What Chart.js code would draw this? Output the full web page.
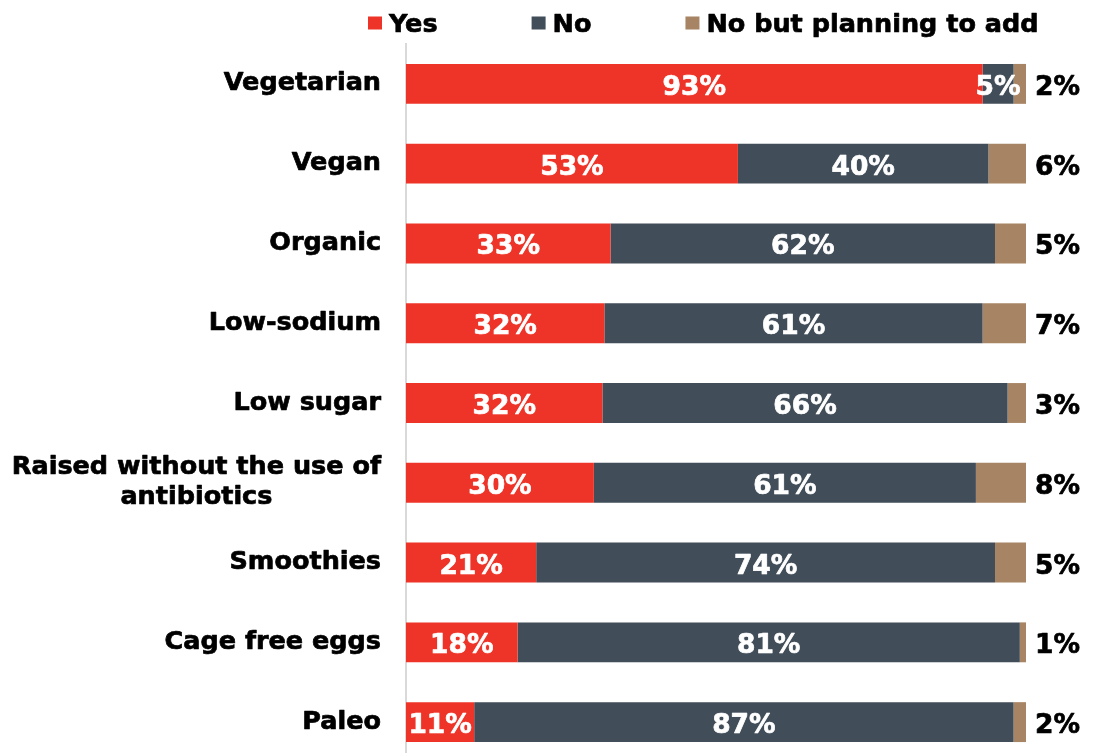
<!DOCTYPE html>
<html>
<head>
<meta charset="utf-8">
<script src="https://cdn.jsdelivr.net/npm/chart.js@4/dist/chart.umd.min.js"></script>
<style>
  html, body { margin: 0; padding: 0; background: #ffffff; overflow: hidden; }
  #wrap { width: 1094px; height: 762px; }
</style>
</head>
<body>
<div id="wrap"><canvas id="chart" width="1094" height="762"></canvas></div>
<script>
// Survey answers per menu attribute (percent of respondents)
const categories = [
  'Vegetarian',
  'Vegan',
  'Organic',
  'Low-sodium',
  'Low sugar',
  ['Raised without the use of', 'antibiotics'],
  'Smoothies',
  'Cage free eggs',
  'Paleo'
];
const seriesNames = ['Yes', 'No', 'No but planning to add'];
const yesValues = [93, 53, 33, 32, 32, 30, 21, 18, 11];
const noValues = [5, 40, 62, 61, 66, 61, 74, 81, 87];
const planningValues = [2, 6, 5, 7, 3, 8, 5, 1, 2];

const seriesColors = ['#ee3428', '#414d59', '#a78463'];
const FONT = '"DejaVu Sans", Verdana, sans-serif';

// Each row is shown as a 100% stacked bar: rounded answers are rescaled by the row total
const rowTotals = categories.map((_, i) => yesValues[i] + noValues[i] + planningValues[i]);
const share = (values) => values.map((v, i) => v / rowTotals[i] * 100);
const rawSeries = [yesValues, noValues, planningValues];

const datasets = rawSeries.map((values, k) => ({
  label: seriesNames[k],
  data: share(values),
  rawValues: values,
  backgroundColor: seriesColors[k],
  borderWidth: 0,
  barPercentage: 0.5,
  categoryPercentage: 1.0
}));

// Heavy text: fill plus a thin outline in the same colour
function heavyText(ctx, text, x, y, color) {
  ctx.fillStyle = color;
  ctx.strokeStyle = color;
  ctx.lineWidth = 0.7;
  ctx.lineJoin = 'round';
  ctx.fillText(text, x, y);
  ctx.strokeText(text, x, y);
}

// Legend row across the top
const legendPlugin = {
  id: 'topLegend',
  afterDraw(chart) {
    const ctx = chart.ctx;
    ctx.save();
    ctx.font = 'bold 25.5px ' + FONT;
    ctx.textAlign = 'left';
    ctx.textBaseline = 'alphabetic';
    let x = 368;
    seriesNames.forEach((name, k) => {
      ctx.fillStyle = seriesColors[k];
      ctx.fillRect(x, 16.5, 14, 13);
      const tx = x + 21;
      heavyText(ctx, name, tx, 32, '#000000');
      x = tx + ctx.measureText(name).width + 94;
    });
    ctx.restore();
  }
};

// Category names, right-aligned beside the axis; wrapped names are centred line by line
const categoryLabelPlugin = {
  id: 'categoryLabels',
  afterDraw(chart) {
    const ctx = chart.ctx;
    const yScale = chart.scales.y;
    const right = 381;
    ctx.save();
    ctx.font = 'bold 25.5px ' + FONT;
    ctx.textBaseline = 'alphabetic';
    categories.forEach((label, i) => {
      const cy = yScale.getPixelForValue(i);
      if (Array.isArray(label)) {
        const widths = label.map(l => ctx.measureText(l).width);
        const cx = right - Math.max(...widths) / 2;
        ctx.textAlign = 'center';
        const lineH = 30;
        const firstBase = cy + 6.5 - lineH * (label.length - 1) / 2;
        label.forEach((l, j) => heavyText(ctx, l, cx, firstBase + j * lineH, '#000000'));
      } else {
        ctx.textAlign = 'right';
        heavyText(ctx, label, right, cy + 6.5, '#000000');
      }
    });
    ctx.restore();
  }
};

// Percent labels: inside the Yes / No segments, outside the bar end for the last series
const valueLabelPlugin = {
  id: 'valueLabels',
  afterDatasetsDraw(chart) {
    const ctx = chart.ctx;
    ctx.save();
    ctx.font = 'bold 26.5px ' + FONT;
    ctx.textBaseline = 'alphabetic';
    chart.data.datasets.forEach((ds, k) => {
      const meta = chart.getDatasetMeta(k);
      meta.data.forEach((bar, i) => {
        const text = ds.rawValues[i] + '%';
        const p = bar.getProps(['x', 'y', 'base'], true);
        if (k < 2) {
          ctx.textAlign = 'center';
          heavyText(ctx, text, (p.x + p.base) / 2, p.y + 11, '#ffffff');
        } else {
          ctx.textAlign = 'left';
          heavyText(ctx, text, p.x + 9, p.y + 11, '#000000');
        }
      });
    });
    ctx.restore();
  }
};

new Chart(document.getElementById('chart'), {
  type: 'bar',
  data: { labels: categories, datasets: datasets },
  options: {
    indexAxis: 'y',
    responsive: false,
    animation: false,
    devicePixelRatio: 1,
    layout: { padding: { top: 44, right: 68, bottom: 0, left: 0 } },
    plugins: {
      legend: { display: false },
      tooltip: { enabled: false },
      title: { display: false }
    },
    scales: {
      x: {
        stacked: true,
        min: 0,
        max: 100,
        display: false
      },
      y: {
        stacked: true,
        grid: { display: false },
        ticks: { display: false },
        border: { display: true, color: '#d9d9d9', width: 2 },
        afterFit(scale) { scale.width = 406; }
      }
    }
  },
  plugins: [legendPlugin, categoryLabelPlugin, valueLabelPlugin]
});
</script>
</body>
</html>
